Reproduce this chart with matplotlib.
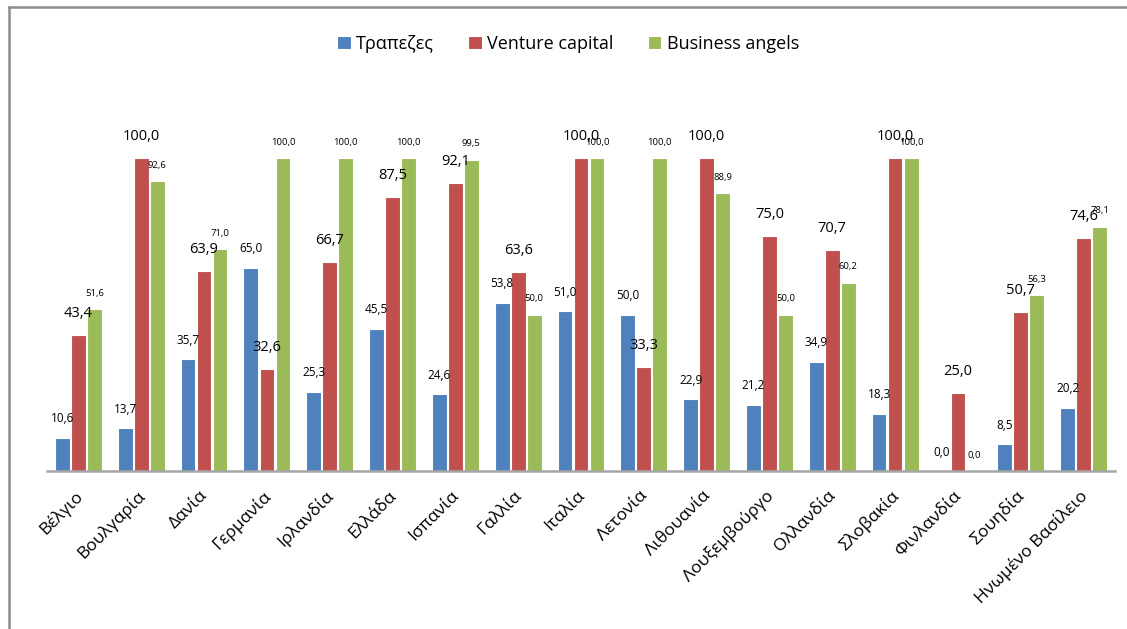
import matplotlib
matplotlib.use("Agg")
import matplotlib.pyplot as plt
from matplotlib.lines import Line2D
import numpy as np

plt.rcParams['font.family'] = ['Open Sans', 'DejaVu Sans']

countries = ["Βέλγιο", "Βουλγαρία", "Δανία", "Γερμανία", "Ιρλανδία", "Ελλάδα",
             "Ισπανία", "Γαλλία", "Ιταλία", "Λετονία", "Λιθουανία", "Λουξεμβούργο",
             "Ολλανδία", "Σλοβακία", "Φινλανδία", "Σουηδία", "Ηνωμένο Βασίλειο"]
banks = [10.6, 13.7, 35.7, 65.0, 25.3, 45.5, 24.6, 53.8, 51.0, 50.0, 22.9, 21.2,
         34.9, 18.3, 0.0, 8.5, 20.2]
venture = [43.4, 100.0, 63.9, 32.6, 66.7, 87.5, 92.1, 63.6, 100.0, 33.3, 100.0,
           75.0, 70.7, 100.0, 25.0, 50.7, 74.6]
angels = [51.6, 92.6, 71.0, 100.0, 100.0, 100.0, 99.5, 50.0, 100.0, 100.0, 88.9,
          50.0, 60.2, 100.0, 0.0, 56.3, 78.1]
series_names = ["Τραπεζες", "Venture capital", "Business angels"]

colors = ["#4F81BD", "#C0504D", "#9BBB59"]
label_sizes = [8.5, 10.5, 6.8]
label_offsets = [9, 10, 8]

W, H = 1127, 629
fig = plt.figure(figsize=(W / 100, H / 100), dpi=100)
ax = fig.add_axes([47 / W, 1 - 471 / H, (1115 - 47) / W, (471 - 158) / H])

x = np.arange(len(countries))
slot = 0.255
bw = 0.235
all_series = [banks, venture, angels]
for i, (vals, col, name) in enumerate(zip(all_series, colors, series_names)):
    pos = x + (i - 1) * slot
    ax.bar(pos, vals, width=bw, color=col, edgecolor='white', linewidth=0.8,
           label=name, zorder=2)
    for px, v in zip(pos, vals):
        ax.annotate(f"{v:.1f}".replace('.', ','), xy=(px, v),
                    xytext=(0, label_offsets[i]),
                    textcoords='offset points', ha='center', va='bottom',
                    fontsize=label_sizes[i], color='black', annotation_clip=False)

ax.set_xlim(-0.5, len(countries) - 0.5)
ax.set_ylim(0, 100)
for s in ['top', 'right', 'left']:
    ax.spines[s].set_visible(False)
ax.spines['bottom'].set_color('#A6A6A6')
ax.spines['bottom'].set_linewidth(1.8)
ax.set_yticks([])
ax.set_xticks(x - 0.07)
ax.set_xticklabels(countries, rotation=45, ha='right', rotation_mode='anchor',
                   fontsize=12.5)
ax.tick_params(axis='x', length=0, pad=12)

leg = fig.legend(loc='center', bbox_to_anchor=(568 / W, 1 - 44 / H), ncol=3,
                 frameon=False, fontsize=13, handlelength=0.75, handleheight=0.75,
                 handletextpad=0.3, columnspacing=1.9)

fig.add_artist(Line2D([9 / W, 9 / W], [0, 1 - 7 / H], color='#8C8C8C', lw=1.8,
                      transform=fig.transFigure))
fig.add_artist(Line2D([9 / W, 1], [1 - 7 / H, 1 - 7 / H], color='#8C8C8C', lw=1.8,
                      transform=fig.transFigure))

fig.savefig("out.png", dpi=100)
